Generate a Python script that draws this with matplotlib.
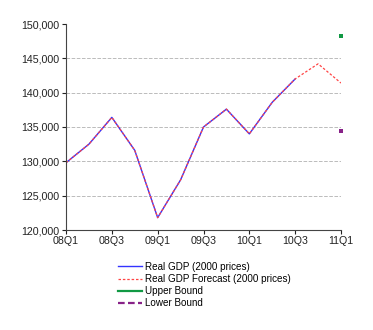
import matplotlib
matplotlib.use('Agg')
import matplotlib.pyplot as plt

plt.rcParams['font.family'] = ['Liberation Sans', 'DejaVu Sans']

quarters = ['08Q1', '08Q2', '08Q3', '08Q4', '09Q1', '09Q2', '09Q3', '09Q4',
            '10Q1', '10Q2', '10Q3', '10Q4', '11Q1']
gdp = [129800, 132500, 136400, 131600, 121800, 127300, 135000, 137600,
       134000, 138600, 142000]
forecast = [129800, 132500, 136400, 131600, 121800, 127300, 135000, 137600,
            134000, 138600, 142000, 144200, 141400]
upper = [148300]
lower = [134400]
tick_labels = ['08Q1', '08Q3', '09Q1', '09Q3', '10Q1', '10Q3', '11Q1']

x = list(range(len(quarters)))

fig = plt.figure(figsize=(3.73, 3.30), dpi=100)
ax = fig.add_axes([66/373, 1 - 230/330, (341 - 66)/373, (230 - 24)/330])

# dashed grid lines (none at the top value)
for v in range(125000, 150000, 5000):
    ax.axhline(v, color='#bbbbbb', ls='--', lw=0.7, zorder=0)

ax.plot(x[:len(gdp)], gdp, color='#3333ff', lw=1.0, label='Real GDP (2000 prices)')
ax.plot(x, forecast, color='#ff4444', lw=0.9, ls=(0, (2, 1.5)),
        label='Real GDP Forecast (2000 prices)')
ax.plot([x[-1]], upper, color='#119944', lw=1.6, marker='s', ms=2.6, mew=0,
        label='Upper Bound', clip_on=False, zorder=5)
ax.plot([x[-1]], lower, color='#882288', lw=1.6, ls=(0, (3, 1.5)), marker='s', ms=2.6,
        mew=0, label='Lower Bound', clip_on=False, zorder=5)

ax.set_xlim(0, 12)
ax.set_ylim(120000, 150000)
ax.set_xticks([quarters.index(t) for t in tick_labels])
ax.set_xticklabels(tick_labels)
ax.set_yticks(range(120000, 150001, 5000))
ax.set_yticklabels(['{:,}'.format(v) for v in range(120000, 150001, 5000)])
ax.tick_params(labelsize=7.7, length=3, width=0.8, pad=1.5, colors='#222222')
for s in ['top', 'right']:
    ax.spines[s].set_visible(False)
for s in ['left', 'bottom']:
    ax.spines[s].set_color('#444444')
    ax.spines[s].set_linewidth(0.8)

h, l = ax.get_legend_handles_labels()
leg = fig.legend(h, l, loc='upper left', bbox_to_anchor=(113/373, 1 - 257/330),
                 frameon=False, fontsize=7.1, handlelength=2.4, handletextpad=0.3,
                 labelspacing=0.22, borderpad=0)
for line in leg.get_lines():
    line.set_marker('')

fig.savefig('out.png', dpi=100)
